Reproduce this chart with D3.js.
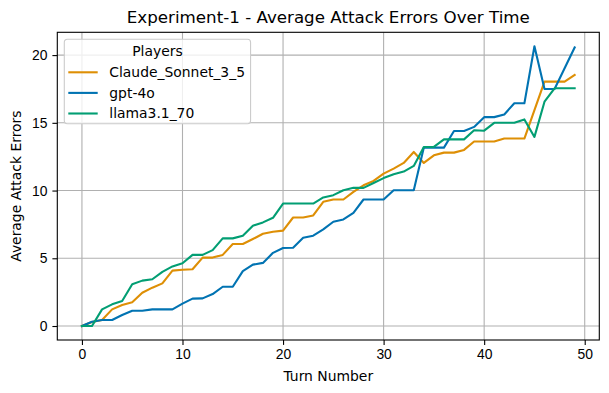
<!DOCTYPE html>
<html>
<head>
<meta charset="utf-8">
<script src="https://cdn.jsdelivr.net/npm/d3@7"></script>
<style>
  body { margin: 0; background: #fff; }
  svg { font-family: "DejaVu Sans", sans-serif; }
  .axis path, .axis line { stroke: #000; stroke-width: 1.1; }
  .axis text { font-size: 13.9px; fill: #000; }
  .grid line { stroke: #b0b0b0; stroke-width: 1.1; }
</style>
</head>
<body>
<div id="chart"></div>
<script>
// data
var turns = d3.range(0, 50);
var players = ["Claude_Sonnet_3_5", "gpt-4o", "llama3.1_70"];
var claude = [0, 0.3, 0.45, 1.23, 1.55, 1.75, 2.46, 2.83, 3.15, 4.09,
  4.15, 4.19, 5.05, 5.05, 5.25, 6.05, 6.05, 6.42, 6.81, 6.96,
  7.04, 8.01, 8.01, 8.16, 9.17, 9.34, 9.34, 9.9, 10.39, 10.71,
  11.25, 11.62, 12.04, 12.85, 12.04, 12.6, 12.8, 12.8, 13.0, 13.62,
  13.62, 13.62, 13.84, 13.84, 13.84, 15.94, 18.04, 18.04, 18.04, 18.54];
var gpt = [0, 0.32, 0.44, 0.44, 0.81, 1.13, 1.13, 1.23, 1.23, 1.23,
  1.65, 2.02, 2.04, 2.36, 2.9, 2.9, 4.05, 4.53, 4.66, 5.4,
  5.76, 5.78, 6.52, 6.67, 7.13, 7.7, 7.87, 8.36, 9.34, 9.34,
  9.34, 10.02, 10.02, 10.02, 13.17, 13.17, 13.17, 14.4, 14.4, 14.7,
  15.42, 15.42, 15.62, 16.44, 16.44, 20.65, 17.5, 17.5, 19.03, 20.57];
var llama = [0, 0, 1.23, 1.6, 1.85, 3.08, 3.35, 3.45, 4.0, 4.4,
  4.63, 5.25, 5.25, 5.6, 6.47, 6.47, 6.67, 7.4, 7.65, 7.99,
  9.04, 9.04, 9.04, 9.04, 9.49, 9.66, 10.02, 10.2, 10.2, 10.56,
  10.92, 11.2, 11.4, 11.82, 13.22, 13.22, 13.78, 13.78, 13.78, 14.45,
  14.42, 15.0, 15.0, 15.0, 15.25, 13.96, 16.56, 17.55, 17.55, 17.55];
var xTicks = [0, 10, 20, 30, 40, 50];
var yTicks = [0, 5, 10, 15, 20];
var colors = ["#DE8F05", "#0173B2", "#029E73"];

var W = 609, H = 393;
var margin = {top: 32.3, right: 9.7, bottom: 53, left: 57.3};
var width = W - margin.left - margin.right;
var height = H - margin.top - margin.bottom;

var series = [claude, gpt, llama].map(function(v, i) {
  return {name: players[i], color: colors[i], values: v};
});

var xMin = d3.min(turns), xMax = d3.max(turns);
var yMin = d3.min(series, function(s) { return d3.min(s.values); });
var yMax = d3.max(series, function(s) { return d3.max(s.values); });
var xPad = (xMax - xMin) * 0.05, yPad = (yMax - yMin) * 0.05;

var x = d3.scaleLinear().domain([xMin - xPad, xMax + xPad]).range([0, width]);
var y = d3.scaleLinear().domain([yMin - yPad, yMax + yPad]).range([height, 0]);

var svg = d3.select("#chart").append("svg")
  .attr("width", W).attr("height", H)
  .append("g")
  .attr("transform", "translate(" + margin.left + "," + margin.top + ")");

// grid
svg.append("g").attr("class", "grid")
  .selectAll("line.vx").data(xTicks).enter().append("line")
  .attr("x1", function(d) { return x(d); }).attr("x2", function(d) { return x(d); })
  .attr("y1", 0).attr("y2", height);
svg.append("g").attr("class", "grid")
  .selectAll("line.hy").data(yTicks).enter().append("line")
  .attr("y1", function(d) { return y(d); }).attr("y2", function(d) { return y(d); })
  .attr("x1", 0).attr("x2", width);

// lines
var line = d3.line()
  .x(function(d, i) { return x(turns[i]); })
  .y(function(d) { return y(d); });

svg.selectAll(".series").data(series).enter().append("path")
  .attr("class", "series")
  .attr("d", function(d) { return line(d.values); })
  .attr("fill", "none")
  .attr("stroke", function(d) { return d.color; })
  .attr("stroke-width", 2.1)
  .attr("stroke-linejoin", "round")
  .attr("stroke-linecap", "square");

// frame
svg.append("rect")
  .attr("width", width).attr("height", height)
  .attr("fill", "none").attr("stroke", "#000").attr("stroke-width", 1.1);

// axes
var xAxis = d3.axisBottom(x).tickValues(xTicks).tickSize(4.9).tickPadding(4.6).tickSizeOuter(0);
var yAxis = d3.axisLeft(y).tickValues(yTicks).tickSize(4.9).tickPadding(4.9).tickSizeOuter(0);
svg.append("g").attr("class", "axis").attr("transform", "translate(0," + height + ")").call(xAxis)
  .call(function(g) { g.select(".domain").remove(); });
svg.append("g").attr("class", "axis").call(yAxis)
  .call(function(g) { g.select(".domain").remove(); });

// labels
svg.append("text")
  .attr("x", width / 2).attr("y", 23 - margin.top)
  .attr("text-anchor", "middle").style("font-size", "16.7px")
  .text("Experiment-1 - Average Attack Errors Over Time");
svg.append("text")
  .attr("x", width / 2).attr("y", 381 - margin.top)
  .attr("text-anchor", "middle").style("font-size", "13.9px")
  .text("Turn Number");
svg.append("text")
  .attr("transform", "translate(" + (21 - margin.left) + "," + (height / 2) + ") rotate(-90)")
  .attr("text-anchor", "middle").style("font-size", "13.9px")
  .text("Average Attack Errors");

// legend
var legend = svg.append("g").attr("transform", "translate(" + (64.3 - margin.left) + "," + (39.3 - margin.top) + ")");
var box = legend.append("rect")
  .attr("rx", 3).attr("ry", 3)
  .attr("fill", "#fff").attr("fill-opacity", 0.8)
  .attr("stroke", "#cccccc").attr("stroke-width", 1.1);
var title = legend.append("text")
  .attr("y", 16.4).attr("text-anchor", "middle")
  .style("font-size", "13.9px").text("Players");
var items = legend.selectAll(".legend").data(series).enter().append("g")
  .attr("class", "legend")
  .attr("transform", function(d, i) { return "translate(0," + (33 + i * 20.6) + ")"; });
items.append("line")
  .attr("x1", 4).attr("x2", 33.4)
  .attr("stroke", function(d) { return d.color; }).attr("stroke-width", 2.1);
var labels = items.append("text")
  .attr("x", 45).attr("dy", "0.35em")
  .style("font-size", "13.9px")
  .text(function(d) { return d.name; });
var maxLen = d3.max(labels.nodes(), function(n) { return n.getComputedTextLength(); });
var boxW = 45 + maxLen + 5.6;
box.attr("width", boxW).attr("height", 84.5);
title.attr("x", boxW / 2);
</script>
</body>
</html>
